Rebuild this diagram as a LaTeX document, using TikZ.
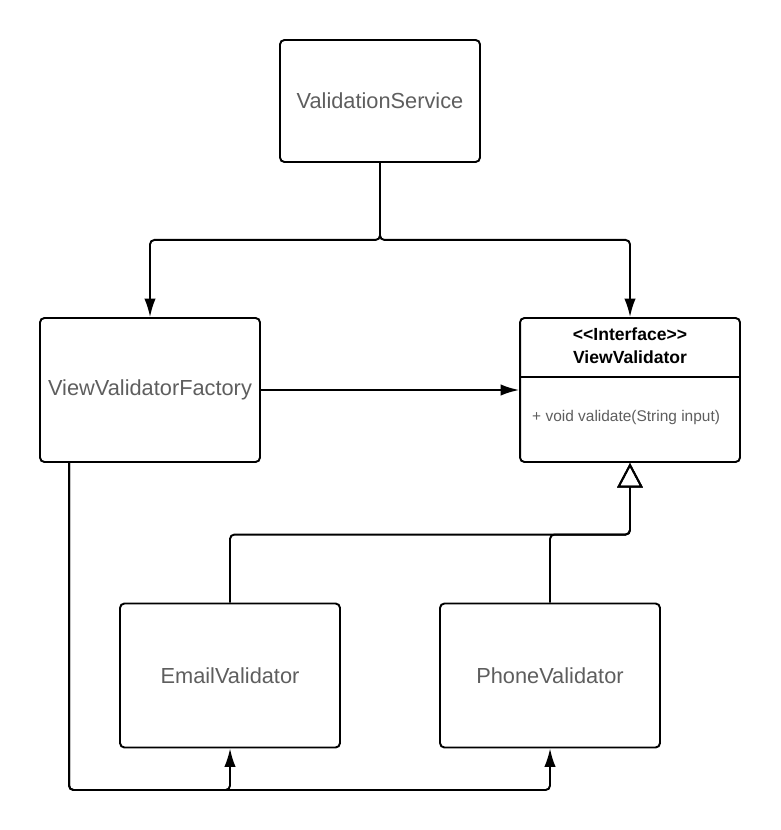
\documentclass[tikz,border=0pt]{standalone}
\usepackage{fontspec}
\setmainfont{Liberation Sans}
\usepackage{tikz}
\usetikzlibrary{positioning, calc, arrows.meta}

\definecolor{labelgray}{HTML}{5E5E5E}

\tikzset{
    classbox/.style={draw, line width=1.1pt, rounded corners=2.5pt, minimum width=4.4cm, minimum height=2.88cm,
        text=labelgray, font=\fontsize{12.4}{15}\selectfont},
    conn/.style={line width=1.1pt, rounded corners=2.5pt, -{Latex[length=10.5pt,width=6.5pt]}},
    inherit/.style={line width=1.1pt, rounded corners=2.5pt, -{Triangle[open,length=14pt,width=14.5pt,line width=1.1pt]}}
}

\begin{document}
\begin{tikzpicture}[x=0.02cm, y=-0.02cm]
        \useasboundingbox (0,0) rectangle (780,830);

        % Classes
        \node[classbox, minimum width=4cm, minimum height=2.44cm] (service) at (380,101) {ValidationService};
        \node[classbox] (factory) at (150,390) {ViewValidatorFactory};
        \node[classbox] (viewval) at (630,390) {};
        \node[classbox] (email) at (230,675.5) {EmailValidator};
        \node[classbox] (phone) at (550,675.5) {PhoneValidator};

        % Interface compartments
        \coordinate (divide) at (0,377);
        \draw[line width=1.1pt] (viewval.west |- divide) -- (viewval.east |- divide);
        \node[align=center, font=\bfseries\fontsize{10}{13.4}\selectfont] (vvhead) at (630,345.5) {<\kern0pt<Interface>\kern0pt>\\ViewValidator};
        \node[anchor=west, text=labelgray, font=\fontsize{8.8}{11}\selectfont] (vvop) at (526,418) {+ void validate(String input)};

        % Service uses factory and validator
        \draw[conn] (service.south) -- ++(0,77) -| (factory.north);
        \draw[conn] (service.south) -- ++(0,77) -| (viewval.north);

        % Factory creates validators
        \draw[conn] (factory.east) -- (viewval.west);
        \coordinate (bus) at (0,790);
        \draw[conn] ([xshift=0.6cm]factory.south west) |- (email.south |- bus) -- (email.south);
        \draw[conn] ([xshift=0.6cm]factory.south west) |- (phone.south |- bus) -- (phone.south);

        % Realization
        \draw[inherit] (email.north) -- ++(0,-68) -| (viewval.south);
        \draw[inherit] (phone.north) -- ++(0,-68) -| (viewval.south);
    \end{tikzpicture}
\end{document}
